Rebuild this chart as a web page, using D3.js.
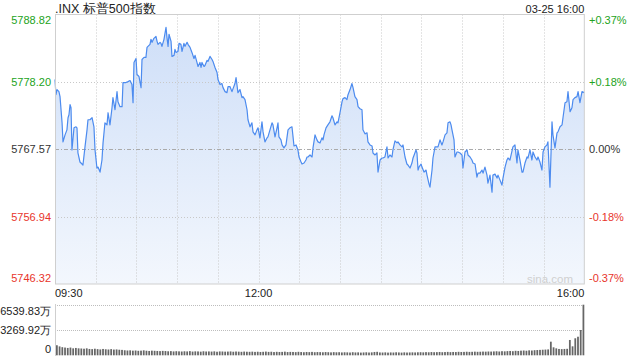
<!DOCTYPE html>
<html><head><meta charset="utf-8">
<script src="https://cdn.jsdelivr.net/npm/d3@7"></script>
<style>
html,body{margin:0;padding:0;background:#fff;}
svg{display:block;font-family:"Liberation Sans",Arial,sans-serif;}
</style></head>
<body>
<svg id="c" width="640" height="360"></svg>
<script>
const title = ".INX 标普500指数";
const stamp = "03-25 16:00";
const prevClose = 5767.57;
const priceTicks = [5788.82, 5778.20, 5767.57, 5756.94, 5746.32];
const pctLabels = ["+0.37%", "+0.18%", "0.00%", "-0.18%", "-0.37%"];
const timeLabels = [["09:30", 0], ["12:00", 150], ["16:00", 390]];
const volTicks = [6539.83, 3269.92, 0];
const volTickLabels = ["6539.83万", "3269.92万", "0"];

const minutes = [0,0.7,1.5,2.9,3.7,5.2,5.9,7.4,8.8,9.6,10.3,11.1,11.8,12.5,14.0,15.5,16.2,16.9,18.4,19.9,20.6,22.1,23.6,24.3,25.8,26.5,27.3,28.7,29.5,30.9,31.7,33.2,34.6,35.4,36.8,38.3,39.1,40.5,42.0,42.7,44.2,45.7,46.4,47.9,49.4,50.1,52.3,53.8,55.3,56.7,57.5,58.2,59.7,60.4,61.9,63.4,64.1,65.6,67.0,67.8,68.5,70.0,70.7,71.5,72.9,74.4,75.2,75.9,77.4,78.1,78.8,80.3,81.8,82.5,83.3,84.0,85.5,86.2,87.7,88.4,89.2,90.6,91.4,92.8,93.6,95.0,95.8,97.3,98.0,99.5,100.9,102.4,103.2,104.6,105.4,106.8,107.6,108.3,109.8,110.5,112.0,112.7,114.2,115.7,116.4,117.9,119.4,120.1,121.6,123.0,123.8,125.3,126.7,127.5,128.9,130.4,131.2,132.6,133.4,134.8,136.3,137.8,138.5,140.0,141.5,142.2,143.7,145.1,145.9,147.4,148.8,149.6,151.0,152.5,153.3,154.7,156.2,156.9,158.4,159.9,160.6,162.1,163.6,164.3,165.0,166.5,167.3,168.7,170.2,170.9,171.7,173.1,174.6,175.4,176.1,177.6,179.0,179.8,181.3,182.0,183.5,184.9,185.7,186.4,187.9,189.4,190.1,191.6,193.0,193.8,195.3,196.7,197.5,198.2,199.7,201.1,202.6,204.1,204.8,206.3,207.8,208.5,210.0,211.5,212.2,213.7,215.1,215.9,217.4,218.8,219.6,221.0,222.5,223.3,224.7,226.2,226.9,228.4,229.9,230.6,232.1,233.6,234.3,235.8,237.2,238.0,239.5,240.9,241.7,243.1,244.6,245.4,246.8,248.3,249.0,250.5,252.0,252.7,254.2,255.7,256.4,257.9,259.3,260.1,261.6,263.0,263.8,266.0,266.7,267.5,268.2,269.7,270.4,271.9,273.4,274.1,275.6,276.3,277.8,278.5,280.0,281.5,282.2,283.7,285.1,285.9,287.4,288.8,289.6,291.0,291.8,292.5,294.0,294.7,296.2,296.9,298.4,299.9,300.6,302.1,303.6,304.3,305.8,307.2,308.0,309.5,310.9,311.7,313.1,314.6,315.4,316.8,318.3,319.0,320.5,322.0,322.7,324.2,325.7,326.4,327.9,329.3,330.1,331.6,333.0,333.8,335.2,337.4,338.9,340.4,341.1,342.6,344.1,344.8,346.3,347.8,348.5,350.0,351.4,352.2,353.7,355.1,355.9,357.3,358.8,359.6,361.0,362.5,363.2,364.7,366.2,366.9,368.4,369.9,370.6,372.1,373.6,374.3,375.8,377.2,378.0,379.5,380.9,381.7,383.1,384.6,385.4,386.8,388.3,390];

const prices = [5778.56,5776.18,5776.98,5776.66,5775.87,5771.74,5768.73,5769.84,5770.63,5772.54,5773.01,5774.60,5774.12,5767.46,5770.95,5771.11,5770.95,5766.98,5765.56,5765.24,5765.08,5767.94,5770.63,5772.22,5772.22,5772.38,5772.54,5771.11,5767.46,5764.61,5764.76,5763.97,5765.87,5768.57,5771.74,5771.42,5773.33,5771.42,5774.12,5775.71,5773.80,5776.66,5775.07,5774.28,5774.28,5778.09,5778.09,5778.24,5778.40,5777.77,5774.91,5781.26,5781.89,5779.35,5779.04,5777.29,5781.73,5782.05,5782.05,5783.64,5783.80,5784.11,5784.91,5784.43,5785.06,5785.38,5784.59,5784.11,5784.43,5784.27,5783.80,5784.91,5786.81,5785.22,5783.80,5785.70,5784.59,5782.21,5782.37,5783.32,5782.84,5783.00,5784.27,5784.11,5783.00,5784.27,5783.80,5784.43,5784.11,5783.64,5782.84,5781.89,5782.37,5781.26,5780.62,5781.26,5780.47,5781.26,5780.62,5780.78,5781.58,5781.42,5782.21,5781.73,5781.42,5780.47,5779.67,5778.56,5777.77,5777.93,5777.29,5776.66,5776.50,5777.45,5777.45,5776.66,5777.13,5777.93,5778.88,5776.50,5776.98,5775.71,5775.87,5775.39,5773.80,5772.22,5771.11,5771.74,5770.31,5769.84,5770.63,5770.95,5769.36,5771.90,5770.31,5768.73,5769.36,5769.52,5770.63,5771.74,5771.42,5769.52,5770.95,5771.74,5769.52,5769.05,5768.25,5767.78,5768.25,5769.36,5770.63,5770.95,5771.11,5769.52,5768.09,5768.25,5767.46,5766.35,5765.56,5765.24,5765.40,5765.87,5766.35,5766.35,5766.67,5766.35,5767.78,5769.84,5769.05,5768.73,5768.57,5769.36,5769.05,5769.84,5770.95,5771.42,5771.90,5772.85,5772.54,5771.42,5771.90,5771.74,5773.33,5775.07,5775.55,5775.71,5775.39,5776.18,5776.98,5777.93,5777.29,5775.87,5775.39,5774.28,5773.96,5773.80,5770.63,5770.00,5770.16,5768.73,5768.25,5768.09,5766.98,5766.67,5766.98,5763.97,5765.87,5766.19,5766.19,5766.35,5767.94,5766.19,5766.67,5766.35,5767.46,5768.89,5768.57,5768.73,5768.25,5767.94,5768.25,5766.35,5765.24,5765.08,5764.61,5765.40,5766.19,5767.46,5766.98,5764.29,5764.76,5765.24,5764.76,5763.97,5764.29,5763.49,5762.07,5761.59,5764.29,5766.19,5767.94,5767.94,5767.94,5769.05,5768.25,5768.73,5769.84,5770.16,5771.74,5771.90,5771.42,5770.63,5769.05,5766.35,5767.14,5767.14,5766.98,5766.67,5764.61,5767.14,5767.46,5766.67,5766.35,5765.87,5765.40,5765.24,5763.18,5763.81,5763.81,5764.29,5763.81,5764.76,5763.49,5762.23,5763.49,5760.80,5763.49,5763.65,5763.02,5763.49,5762.70,5761.91,5763.02,5764.76,5765.87,5766.19,5765.87,5767.94,5768.25,5765.40,5767.46,5765.87,5763.97,5763.97,5765.40,5766.35,5766.19,5767.46,5765.87,5767.14,5766.35,5765.87,5766.35,5765.56,5764.29,5767.14,5767.94,5768.25,5768.73,5761.59,5771.90,5769.84,5767.78,5770.16,5770.31,5771.11,5771.42,5772.54,5774.91,5775.07,5776.66,5773.49,5774.12,5775.39,5775.71,5775.87,5776.66,5774.91,5776.66,5776.50];

// volume per 2-minute bar (万)
const volumes = [1300,1150,1050,1000,950,1000,900,950,900,880,850,900,820,800,850,
800,760,820,780,750,800,740,760,720,700,
650,620,640,600,620,580,600,640,590,560,600,580,560,540,570,550,
520,540,500,530,510,490,520,500,540,480,510,500,470,520,490,500,480,510,460,500,490,470,480,500,460,490,470,450,480,460,
450,470,440,460,430,450,480,440,460,420,450,430,440,470,420,440,430,410,450,420,400,430,410,440,400,420,410,390,420,400,
380,410,390,400,370,390,380,360,400,370,380,350,370,390,360,380,430,450,370,360,380,350,370,360,390,370,350,380,360,370,
380,370,390,400,380,410,390,420,400,410,430,400,420,440,410,430,420,450,430,440,460,440,450,470,450,460,480,470,490,480,
500,520,490,530,510,540,560,530,580,560,600,620,590,640,620,660,680,700,720,
740,760,1760,
1030,900,820,800,820,840,
1980,1160,2200,2400,3270,6539.83];

const svg = d3.select("#c");
const L = 55, R = 584.3, T = 14.5, B = 284;
const x = d3.scaleLinear().domain([0, 390]).range([L, R]);
const y = d3.scaleLinear().domain([5746.32, 5788.82]).range([B, T]);
const vy = d3.scaleLinear().domain([0, 6539.83]).range([355.3, 304.7]);
const green = "#22a322", red = "#e8352b", dark = "#333";
const colorOf = v => v > prevClose + 0.001 ? green : (v < prevClose - 0.001 ? red : dark);

const defs = svg.append("defs");
const grad = defs.append("linearGradient").attr("id", "g").attr("x1", 0).attr("y1", 0).attr("x2", 0).attr("y2", 1);
grad.append("stop").attr("offset", "0%").attr("stop-color", "#cfdff8");
grad.append("stop").attr("offset", "100%").attr("stop-color", "#f3f7fd");

// header
svg.append("text").attr("x", L).attr("y", 12.5).attr("font-size", 12.5).attr("fill", "#222").text(title);
svg.append("text").attr("x", R).attr("y", 12.5).attr("font-size", 11).attr("fill", "#222").attr("text-anchor", "end").text(stamp);

const n = Math.min(minutes.length, prices.length);
const pts = d3.range(n).map(i => [minutes[i], prices[i]]);

// area
svg.append("path").datum(pts)
  .attr("d", d3.area().x(d => x(d[0])).y0(B).y1(d => y(d[1])))
  .attr("fill", "url(#g)");

// vertical grid
const vg = d3.range(30, 390, 30);
svg.append("g").selectAll("line").data(vg).join("line")
  .attr("x1", d => Math.round(x(d)) + 0.5).attr("x2", d => Math.round(x(d)) + 0.5)
  .attr("y1", T).attr("y2", B)
  .attr("stroke", "#c8c8c8").attr("stroke-dasharray", "1,2");
// horizontal grid
svg.append("g").selectAll("line").data([priceTicks[1], priceTicks[3]]).join("line")
  .attr("x1", L).attr("x2", R)
  .attr("y1", d => Math.round(y(d)) + 0.5).attr("y2", d => Math.round(y(d)) + 0.5)
  .attr("stroke", "#c8c8c8").attr("stroke-dasharray", "1,2");
svg.append("line").attr("x1", L).attr("x2", R)
  .attr("y1", Math.round(y(prevClose)) + 0.5).attr("y2", Math.round(y(prevClose)) + 0.5)
  .attr("stroke", "#aaa").attr("stroke-dasharray", "4,2,1,2");

// line
svg.append("path").datum(pts)
  .attr("d", d3.line().x(d => x(d[0])).y(d => y(d[1])))
  .attr("fill", "none").attr("stroke", "#4c8bef").attr("stroke-width", 1.2).attr("stroke-linejoin", "round");

// frame
svg.append("rect").attr("x", L + 0.5).attr("y", T).attr("width", R - L - 0.5).attr("height", B - T)
  .attr("fill", "none").attr("stroke", "#cfcfcf");

// watermark
svg.append("text").attr("x", 573).attr("y", 283).attr("font-size", 11.5).attr("fill", "#d0d0d0")
  .attr("text-anchor", "end").text("sina.com");

// left and right labels
priceTicks.forEach((v, i) => {
  let yy = y(v);
  if (i === 0) yy += 5.5;
  if (i === priceTicks.length - 1) yy -= 5.5;
  svg.append("text").attr("x", 51).attr("y", yy).attr("dy", "0.35em").attr("text-anchor", "end")
    .attr("font-size", 11).attr("fill", colorOf(v)).text(v.toFixed(2));
  svg.append("text").attr("x", 589).attr("y", yy).attr("dy", "0.35em")
    .attr("font-size", 11).attr("fill", colorOf(v)).text(pctLabels[i]);
});

// time labels
timeLabels.forEach(([t, m], i) => {
  svg.append("text").attr("x", x(m)).attr("y", 297).attr("font-size", 11).attr("fill", "#222")
    .attr("text-anchor", i === 0 ? "start" : (i === timeLabels.length - 1 ? "end" : "middle")).text(t);
});

// volume panel
volTicks.slice(0, 2).forEach(v => {
  svg.append("line").attr("x1", L).attr("x2", R).attr("y1", Math.round(vy(v)) + 0.5).attr("y2", Math.round(vy(v)) + 0.5)
    .attr("stroke", "#bdbdbd").attr("stroke-dasharray", "1,1");
});
svg.append("line").attr("x1", L + 0.5).attr("x2", L + 0.5).attr("y1", 304).attr("y2", 356).attr("stroke", "#cfcfcf");
volTicks.forEach((v, i) => {
  let yy = vy(v);
  if (i === 0) yy += 6.5;
  if (i === volTicks.length - 1) yy -= 6.5;
  svg.append("text").attr("x", 51).attr("y", yy).attr("dy", "0.35em").attr("text-anchor", "end")
    .attr("font-size", 11).attr("fill", "#222").text(volTickLabels[i]);
});
const bx = d3.scaleBand().domain(d3.range(volumes.length)).range([L + 1, R]).paddingInner(0.35);
svg.append("g").selectAll("rect").data(volumes).join("rect")
  .attr("x", (d, i) => bx(i)).attr("width", bx.bandwidth())
  .attr("y", d => vy(d)).attr("height", d => vy(0) - vy(d))
  .attr("fill", "#666");
</script>
</body></html>
